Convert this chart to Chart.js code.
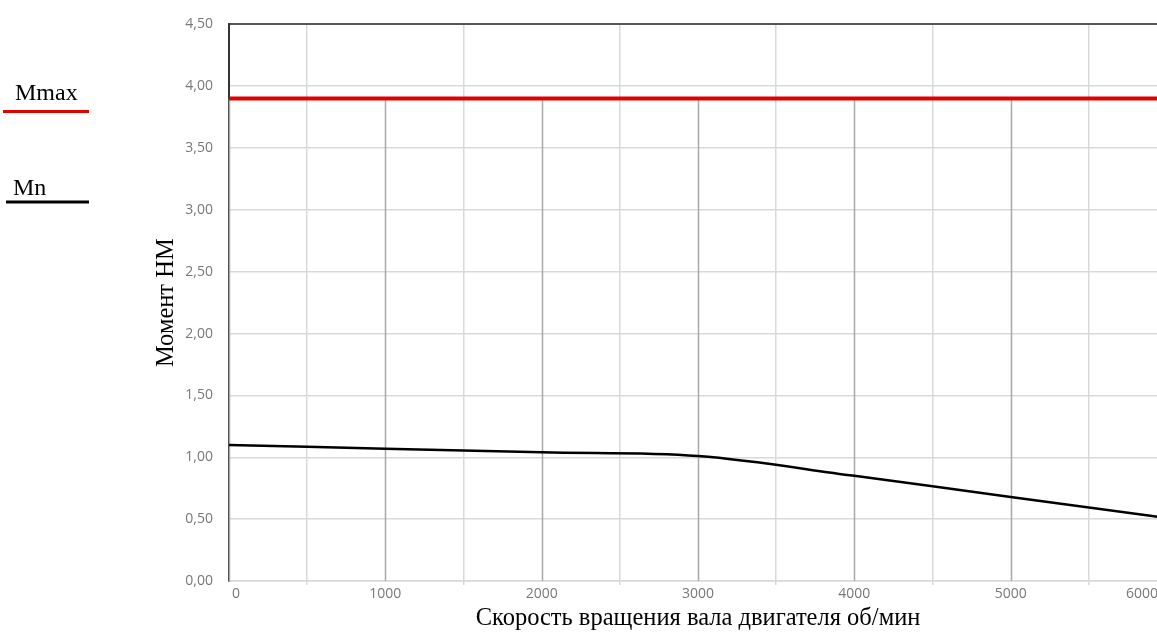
<!DOCTYPE html>
<html lang="ru">
<head>
<meta charset="utf-8">
<title>Момент двигателя</title>
<script src="https://cdn.jsdelivr.net/npm/chart.js@4.4.1/dist/chart.umd.min.js"></script>
<style>
  html, body { margin: 0; padding: 0; background: #ffffff; overflow: hidden; }
  #wrap { width: 1157px; height: 633px; overflow: hidden; position: relative; }
  canvas { display: block; }
</style>
</head>
<body>
<div id="wrap"><canvas id="chart" width="1190" height="633"></canvas></div>
<script>
// Shaft speed, rpm
const speedRpm = [0, 1000, 2000, 3000, 4000, 5000, 6000];
// Maximum torque, N·m
const torqueMax = [3.9, 3.9, 3.9, 3.9, 3.9, 3.9, 3.9];
// Nominal torque, N·m
const torqueNominal = [1.10, 1.07, 1.04, 1.01, 0.85, 0.68, 0.51];

const seriesNames = ['Mmax', 'Mn'];
const xTitle = 'Скорость вращения вала двигателя об/мин';
const yTitle = 'Момент НМ';

const toPoints = (xs, ys) => xs.map((x, i) => ({ x: x, y: ys[i] }));

const SERIF = '"Liberation Serif", "DejaVu Serif", serif';
const SANS = '"Open Sans", "Noto Sans", sans-serif';

// Vertical drop lines from every point of the Mmax series down to the x axis
const dropLines = {
  id: 'dropLines',
  beforeDatasetsDraw(chart) {
    const meta = chart.getDatasetMeta(0);
    const { ctx, chartArea } = chart;
    ctx.save();
    ctx.strokeStyle = '#a8a8a8';
    ctx.lineWidth = 1.5;
    meta.data.forEach(pt => {
      ctx.beginPath();
      ctx.moveTo(Math.round(pt.x) + 0.5, pt.y);
      ctx.lineTo(Math.round(pt.x) + 0.5, chartArea.bottom);
      ctx.stroke();
    });
    ctx.restore();
  }
};

// Keep the first and last x tick labels inside the visible area
const edgeLabels = {
  id: 'edgeLabels',
  beforeDraw(chart) {
    const items = chart.scales.x.getLabelItems();
    const labelled = items.filter(it => it.label !== '');
    if (!labelled.length) return;
    labelled[0].options.translation[0] += 7;
    labelled[labelled.length - 1].options.translation[0] -= 25;
  }
};

// Series key on the left: name above a short line sample
const sideLegend = {
  id: 'sideLegend',
  afterDraw(chart) {
    const { ctx } = chart;
    const rows = [
      { textX: 15, baseY: 100, lineX0: 3, lineX1: 89, lineY: 111.5, width: 3 },
      { textX: 13, baseY: 195, lineX0: 6, lineX1: 89, lineY: 202, width: 3 }
    ];
    ctx.save();
    chart.data.datasets.forEach((ds, i) => {
      const r = rows[i];
      ctx.font = '24px ' + SERIF;
      ctx.fillStyle = '#000000';
      ctx.textBaseline = 'alphabetic';
      ctx.textAlign = 'left';
      ctx.fillText(ds.label, r.textX, r.baseY);
      ctx.strokeStyle = ds.borderColor;
      ctx.lineWidth = r.width;
      ctx.beginPath();
      ctx.moveTo(r.lineX0, r.lineY);
      ctx.lineTo(r.lineX1, r.lineY);
      ctx.stroke();
    });
    ctx.restore();
  }
};

new Chart(document.getElementById('chart'), {
  type: 'line',
  data: {
    datasets: [
      {
        label: seriesNames[0],
        data: toPoints(speedRpm, torqueMax),
        borderColor: '#e10000',
        borderWidth: 4,
        pointRadius: 0,
        tension: 0
      },
      {
        label: seriesNames[1],
        data: toPoints(speedRpm, torqueNominal),
        borderColor: '#000000',
        borderWidth: 2.5,
        pointRadius: 0,
        tension: 0.35
      }
    ]
  },
  options: {
    responsive: false,
    animation: false,
    events: [],
    layout: { padding: { left: 150, top: 23, right: 23, bottom: 0 } },
    plugins: {
      legend: { display: false },
      tooltip: { enabled: false }
    },
    scales: {
      x: {
        type: 'linear',
        min: 0,
        max: 6000,
        afterFit(scale) { scale.height = 52; },
        ticks: {
          stepSize: 500,
          autoSkip: false,
          maxRotation: 0,
          padding: 1,
          color: '#787878',
          font: { family: SANS, size: 14 },
          callback: v => (v % 1000 === 0 ? String(v) : '')
        },
        grid: {
          color: ctx => (ctx.tick && ctx.tick.value % 1000 === 0 ? 'rgba(0,0,0,0)' : '#d9d9d9'),
          tickColor: ctx => (ctx.tick && ctx.tick.value % 1000 === 0 ? 'rgba(0,0,0,0)' : '#d9d9d9'),
          lineWidth: 1.5,
          tickLength: 4
        },
        border: { color: '#d9d9d9', width: 1.5 },
        title: {
          display: true,
          text: xTitle,
          color: '#000000',
          font: { family: SERIF, size: 24.5 },
          padding: { top: 0, bottom: 0 }
        }
      },
      y: {
        min: 0,
        max: 4.5,
        afterFit(scale) { scale.width = 79; },
        ticks: {
          stepSize: 0.5,
          padding: 16,
          color: '#787878',
          font: { family: SANS, size: 14 },
          callback: v => v.toFixed(2).replace('.', ',')
        },
        grid: {
          drawTicks: false,
          color: ctx => (ctx.tick && ctx.tick.value === 4.5 ? '#555555' : '#d9d9d9'),
          lineWidth: ctx => (ctx.tick && ctx.tick.value === 4.5 ? 2 : 1.5)
        },
        border: { color: '#333333', width: 2 },
        title: {
          display: true,
          text: yTitle,
          color: '#000000',
          font: { family: SERIF, size: 24.5 },
          padding: { top: 2, bottom: 0 }
        }
      }
    }
  },
  plugins: [dropLines, edgeLabels, sideLegend]
});
</script>
</body>
</html>
